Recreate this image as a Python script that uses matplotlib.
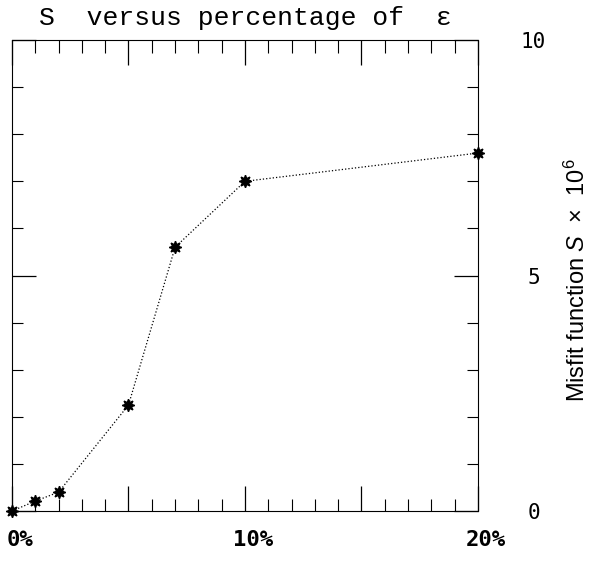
import numpy as np
import matplotlib
matplotlib.use('Agg')
import matplotlib.pyplot as plt
from matplotlib.ticker import MultipleLocator, FixedLocator
from matplotlib.transforms import ScaledTranslation

# values
pct = [0, 1, 2, 5, 7, 10, 20]
misfit = [0.0, 0.21, 0.40, 2.25, 5.6, 7.0, 7.6]

xticks = [0, 5, 10, 15, 20]
xticklabels = ['0%', '', '10%', '', '20%']
yticks = [0, 5, 10]
yticklabels = ['0', '5', '10']

plt.rcParams['mathtext.fontset'] = 'custom'
plt.rcParams['mathtext.rm'] = 'Liberation Sans'
plt.rcParams['mathtext.it'] = 'Liberation Sans:italic'

fig = plt.figure(figsize=(5.91, 5.62), dpi=100)
ax = fig.add_axes([12 / 591, 51 / 562, 466 / 591, 471 / 562])

ax.plot(pct, misfit, color='black', linestyle=':', linewidth=0.9,
        marker=(8, 1, 0), markersize=9, markerfacecolor='black',
        markeredgecolor='black', clip_on=False, zorder=3)

ax.set_xlim(0, 20)
ax.set_ylim(0, 10)

for s in ax.spines.values():
    s.set_linewidth(0.8)
    s.set_linestyle((0, (4, 1)))

# x ticks on bottom and top, pointing inwards
ax.xaxis.set_major_locator(FixedLocator(xticks))
ax.xaxis.set_minor_locator(MultipleLocator(1))
ax.set_xticklabels(xticklabels, family='DejaVu Sans Mono', fontweight='bold', fontsize=16)
ax.tick_params(axis='x', which='major', direction='in', length=18, width=0.9,
               top=True, bottom=True, pad=14)
ax.tick_params(axis='x', which='minor', direction='in', length=9, width=0.8,
               top=True, bottom=True)
offset = ScaledTranslation(8 / 100, 0, fig.dpi_scale_trans)
for lbl in ax.get_xticklabels():
    lbl.set_transform(lbl.get_transform() + offset)

# y ticks on both sides, labels on the right
ax.yaxis.set_major_locator(FixedLocator(yticks))
ax.yaxis.set_minor_locator(MultipleLocator(1))
ax.yaxis.tick_right()
ax.set_yticklabels(yticklabels, family='DejaVu Sans Mono', fontsize=15, ha='center')
ax.tick_params(axis='y', which='major', direction='in', length=17, width=0.9,
               left=True, right=True, labelleft=False, labelright=True, pad=40)
ax.tick_params(axis='y', which='minor', direction='in', length=8, width=0.8,
               left=True, right=True)

ax.yaxis.set_label_position('right')
ax.set_ylabel(r'Misfit function $S$  ×  10$^6$', family='Liberation Sans',
              fontsize=17, ha='center', va='center')
ax.yaxis.set_label_coords((577 - 12) / 466, (562 - 280 - 51) / 471)

fig.text(245 / 591, 1 - 18 / 562, 'S  versus percentage of  ε', family='Liberation Mono',
         fontsize=19, ha='center', va='center')

fig.savefig('out.png', dpi=100)
